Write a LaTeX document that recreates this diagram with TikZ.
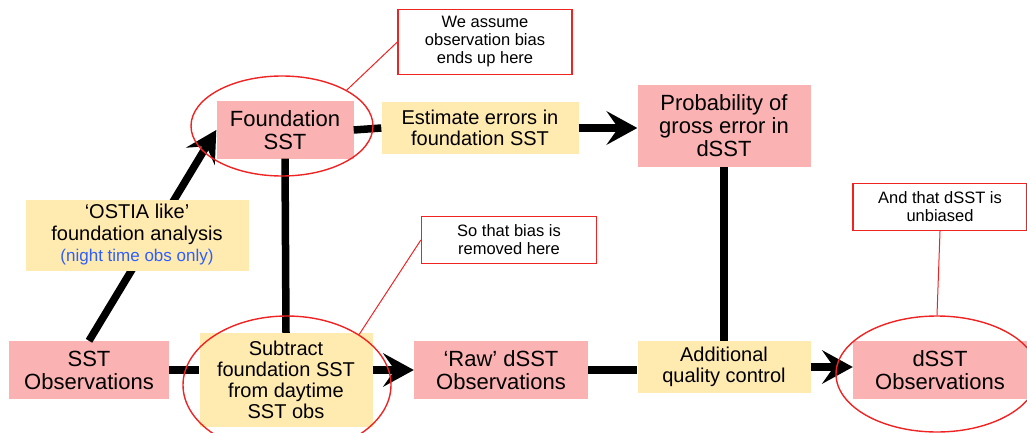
\documentclass[tikz,border=0pt]{standalone}
\usepackage{fontspec}
\setmainfont{Liberation Sans}
\usetikzlibrary{arrows.meta,shapes.geometric}

\definecolor{boxpink}{RGB}{250,178,178}
\definecolor{boxyellow}{RGB}{255,234,176}
\definecolor{noteblue}{RGB}{45,95,255}
\definecolor{notered}{RGB}{240,35,35}

\begin{document}
\begin{tikzpicture}[
    x=1pt, y=-1pt,
    box/.style={align=center, inner sep=0pt},
    pinkbox/.style={box, fill=boxpink, font=\fontsize{22}{23}\selectfont},
    yellowbox/.style={box, fill=boxyellow, font=\fontsize{20}{21}\selectfont},
    notebox/.style={box, draw=notered, fill=white, line width=1.3pt, font=\fontsize{16.5}{18}\selectfont},
    ring/.style={ellipse, draw=notered, line width=1.4pt, inner sep=0pt},
    link/.style={line width=7.5pt},
    arr/.style={link, -{Stealth[length=31pt, width=34pt, inset=12pt, line width=0pt]}},
    lead/.style={draw=notered, line width=1pt}
  ]
    \useasboundingbox (0,0) rectangle (1027,433);

    \node[pinkbox, minimum width=160, minimum height=58] (sstobs) at (89,370)
      {SST\\Observations};
    \node[yellowbox, minimum width=173, minimum height=94] (subtract) at (286,380)
      {Subtract\\foundation SST\\from daytime\\SST obs};
    \node[pinkbox, minimum width=137, minimum height=57] (found) at (285,130)
      {Foundation\\SST};
    \node[yellowbox, minimum width=197, minimum height=51] (est) at (480,128)
      {Estimate errors in\\foundation SST};
    \node[pinkbox, minimum width=173, minimum height=82] (prob) at (724,126)
      {Probability of\\gross error in\\dSST};
    \node[pinkbox, minimum width=174, minimum height=58] (raw) at (501,370)
      {‘Raw’ dSST\\Observations};
    \node[yellowbox, minimum width=173, minimum height=52] (addqc) at (724,367)
      {Additional\\quality control};
    \node[pinkbox, minimum width=174, minimum height=58] (dsst) at (940,370)
      {dSST\\Observations};

    \draw[arr] (sstobs.north) -- (found.west);
    \draw[link] (sstobs.east) -- (subtract.west |- sstobs.east);
    \draw[link] (found.south) -- (subtract.north);
    \draw[arr] (subtract.east |- raw.west) -- (raw.west);
    \draw[link] (found.east) -- (est.west);
    \draw[arr] (est.east) -- (prob.west |- est.east);
    \draw[link] (prob.south) -- (addqc.north);
    \draw[link] (raw.east) -- (addqc.west |- raw.east);
    \draw[arr] (addqc.east) -- (dsst.west |- addqc.east);

    % analysis box sits over the arrow
    \node[yellowbox, minimum width=223, minimum height=71, font=\fontsize{20}{21.5}\selectfont] (ostia) at (137,235)
      {‘OSTIA like’\\foundation analysis\\{\color{noteblue}\fontsize{17}{18}\selectfont(night time obs only)}};

    \node[ring, minimum width=182, minimum height=100] (foundring) at (282,126) {};
    \node[ring, minimum width=208, minimum height=138] (subring) at (287,385) {};
    \node[ring, minimum width=202, minimum height=116] (dsstring) at (937,374) {};

    \node[notebox, minimum width=174, minimum height=65] (notebias) at (485,42)
      {We assume\\observation bias\\ends up here};
    \node[notebox, minimum width=175, minimum height=47] (noteremoved) at (509,240)
      {So that bias is\\removed here};
    \node[notebox, minimum width=174, minimum height=47] (noteunbiased) at (940,207)
      {And that dSST is\\unbiased};

    \draw[lead] (notebias.west) -- (foundring.29);
    \draw[lead] (noteremoved.west) -- (subring.35);
    \draw[lead] (noteunbiased.south) -- (dsstring.north);
  \end{tikzpicture}
\end{document}
